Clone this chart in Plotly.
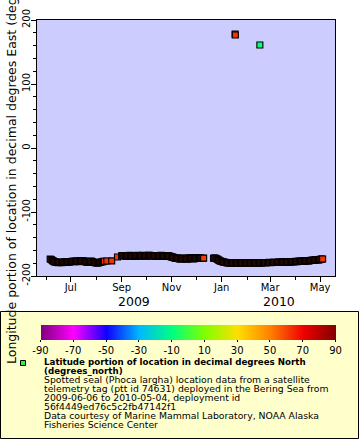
import plotly.graph_objects as go

# ---------------- data (one fix per day) ----------------
DATES = [
    # 2009-06
    "2009-06-06", "2009-06-07", "2009-06-08", "2009-06-09", "2009-06-10", "2009-06-11", "2009-06-12",
    "2009-06-13", "2009-06-14", "2009-06-15", "2009-06-16", "2009-06-17", "2009-06-18", "2009-06-19",
    "2009-06-20", "2009-06-21", "2009-06-22", "2009-06-23", "2009-06-24", "2009-06-25", "2009-06-26",
    "2009-06-27", "2009-06-28", "2009-06-29", "2009-06-30",
    # 2009-07
    "2009-07-01", "2009-07-02", "2009-07-03", "2009-07-04", "2009-07-05", "2009-07-06", "2009-07-07",
    "2009-07-08", "2009-07-09", "2009-07-10", "2009-07-11", "2009-07-12", "2009-07-13", "2009-07-14",
    "2009-07-15", "2009-07-16", "2009-07-17", "2009-07-18", "2009-07-19", "2009-07-20", "2009-07-21",
    "2009-07-22", "2009-07-23", "2009-07-24", "2009-07-25", "2009-07-26", "2009-07-27", "2009-07-28",
    "2009-07-29", "2009-07-30", "2009-07-31",
    # 2009-08
    "2009-08-01", "2009-08-02", "2009-08-03", "2009-08-04", "2009-08-05", "2009-08-06", "2009-08-07",
    "2009-08-08", "2009-08-09", "2009-08-10", "2009-08-11", "2009-08-14", "2009-08-20", "2009-08-27",
    # 2009-09
    "2009-09-01", "2009-09-02", "2009-09-03", "2009-09-04", "2009-09-05", "2009-09-06", "2009-09-07",
    "2009-09-08", "2009-09-09", "2009-09-10", "2009-09-11", "2009-09-12", "2009-09-13", "2009-09-14",
    "2009-09-15", "2009-09-16", "2009-09-17", "2009-09-18", "2009-09-19", "2009-09-20", "2009-09-21",
    "2009-09-22", "2009-09-23", "2009-09-24", "2009-09-25", "2009-09-26", "2009-09-27", "2009-09-28",
    "2009-09-29", "2009-09-30",
    # 2009-10
    "2009-10-01", "2009-10-02", "2009-10-03", "2009-10-04", "2009-10-05", "2009-10-06", "2009-10-07",
    "2009-10-08", "2009-10-09", "2009-10-10", "2009-10-11", "2009-10-12", "2009-10-13", "2009-10-14",
    "2009-10-15", "2009-10-16", "2009-10-17", "2009-10-18", "2009-10-19", "2009-10-20", "2009-10-21",
    "2009-10-22", "2009-10-23", "2009-10-24", "2009-10-25", "2009-10-26", "2009-10-27", "2009-10-28",
    "2009-10-29", "2009-10-30", "2009-10-31",
    # 2009-11
    "2009-11-01", "2009-11-02", "2009-11-03", "2009-11-04", "2009-11-05", "2009-11-06", "2009-11-07",
    "2009-11-08", "2009-11-09", "2009-11-10", "2009-11-11", "2009-11-12", "2009-11-13", "2009-11-14",
    "2009-11-15", "2009-11-16", "2009-11-17", "2009-11-18", "2009-11-19", "2009-11-20", "2009-11-21",
    "2009-11-22", "2009-11-23", "2009-11-24", "2009-11-25", "2009-11-26", "2009-11-27", "2009-11-28",
    "2009-11-29", "2009-11-30",
    # 2009-12
    "2009-12-01", "2009-12-02", "2009-12-03", "2009-12-04", "2009-12-05", "2009-12-06", "2009-12-07",
    "2009-12-08", "2009-12-09", "2009-12-10",
    "2009-12-22", "2009-12-23", "2009-12-24", "2009-12-25", "2009-12-26", "2009-12-27", "2009-12-28",
    "2009-12-29", "2009-12-30", "2009-12-31",
    # 2010-01
    "2010-01-01", "2010-01-02", "2010-01-03", "2010-01-04", "2010-01-05", "2010-01-06", "2010-01-07",
    "2010-01-08", "2010-01-09", "2010-01-10", "2010-01-11", "2010-01-12", "2010-01-13", "2010-01-14",
    "2010-01-15", "2010-01-16", "2010-01-17", "2010-01-17 08:00", "2010-01-17 14:00",
    "2010-01-18", "2010-01-19", "2010-01-20", "2010-01-21", "2010-01-22", "2010-01-23", "2010-01-24",
    "2010-01-25", "2010-01-26", "2010-01-27", "2010-01-28", "2010-01-29", "2010-01-30", "2010-01-31",
    # 2010-02
    "2010-02-01", "2010-02-02", "2010-02-03", "2010-02-04", "2010-02-05", "2010-02-06", "2010-02-07",
    "2010-02-08", "2010-02-09", "2010-02-10", "2010-02-11", "2010-02-12", "2010-02-13", "2010-02-14",
    "2010-02-15", "2010-02-16", "2010-02-16 12:00",
    "2010-02-17", "2010-02-18", "2010-02-19", "2010-02-20", "2010-02-21", "2010-02-22", "2010-02-23",
    "2010-02-24", "2010-02-25", "2010-02-26", "2010-02-27", "2010-02-28",
    # 2010-03
    "2010-03-01", "2010-03-02", "2010-03-03", "2010-03-04", "2010-03-05", "2010-03-06", "2010-03-07",
    "2010-03-08", "2010-03-09", "2010-03-10", "2010-03-11", "2010-03-12", "2010-03-13", "2010-03-14",
    "2010-03-15", "2010-03-16", "2010-03-17", "2010-03-18", "2010-03-19", "2010-03-20", "2010-03-21",
    "2010-03-22", "2010-03-23", "2010-03-24", "2010-03-25", "2010-03-26", "2010-03-27", "2010-03-28",
    "2010-03-29", "2010-03-30", "2010-03-31",
    # 2010-04
    "2010-04-01", "2010-04-02", "2010-04-03", "2010-04-04", "2010-04-05", "2010-04-06", "2010-04-07",
    "2010-04-08", "2010-04-09", "2010-04-10", "2010-04-11", "2010-04-12", "2010-04-13", "2010-04-14",
    "2010-04-15", "2010-04-16", "2010-04-17", "2010-04-18", "2010-04-19", "2010-04-20", "2010-04-21",
    "2010-04-22", "2010-04-23", "2010-04-24", "2010-04-25", "2010-04-26", "2010-04-27", "2010-04-28",
    "2010-04-29", "2010-04-30",
    # 2010-05
    "2010-05-01", "2010-05-02", "2010-05-03", "2010-05-04",
]

LON = [
    # 2009-06
    -173.4, -174.3, -175.0, -176.1, -176.8, -177.6, -177.9,
    -178.3, -178.6, -178.9, -179.1, -178.7, -178.4, -178.9,
    -179.3, -179.0, -178.7, -178.2, -177.9, -178.3, -178.5,
    -178.0, -177.6, -177.9, -178.2,
    # 2009-07
    -177.8, -177.3, -177.0, -176.9, -177.2, -177.5, -177.0,
    -176.6, -177.1, -177.8, -177.2, -176.4, -176.7, -177.0,
    -176.5, -176.2, -176.6, -177.1, -177.6, -178.0, -178.3,
    -178.6, -178.0, -177.4, -177.0, -176.7, -177.3, -177.9,
    -178.4, -178.8, -179.1,
    # 2009-08
    -179.4, -179.6, -179.7, -179.3, -178.9, -178.5, -178.2,
    -177.8, -177.5, -177.2, -176.9, -176.6, -176.4, -170.3,
    # 2009-09
    -168.4, -168.1, -167.9, -168.3, -168.6, -169.0, -169.2,
    -168.7, -168.3, -168.0, -167.8, -168.2, -168.7, -169.1,
    -169.0, -168.6, -168.1, -168.3, -168.5, -168.0, -167.7,
    -168.4, -168.9, -168.6, -168.2, -167.9, -167.6, -168.0,
    -168.4, -168.8,
    # 2009-10
    -169.1, -168.5, -168.0, -167.7, -167.5, -167.9, -168.3,
    -168.6, -168.8, -168.3, -167.9, -168.2, -168.6, -169.0,
    -169.3, -168.7, -168.2, -167.9, -167.8, -168.1, -168.5,
    -169.0, -169.4, -169.1, -168.7, -168.3, -168.0, -168.5,
    -169.0, -169.4, -169.8,
    # 2009-11
    -170.1, -170.5, -170.9, -171.3, -171.9, -172.4, -172.0,
    -171.8, -172.4, -172.9, -173.2, -173.5, -173.0, -172.6,
    -172.2, -171.9, -172.3, -172.8, -173.2, -173.6, -172.9,
    -172.3, -171.9, -171.7, -172.1, -172.5, -172.9, -173.2,
    -172.6, -172.1,
    # 2009-12
    -171.8, -171.6, -172.0, -172.4, -172.1, -171.9, -172.3,
    -172.6, -172.2, -172.0,
    -172.3, -172.0, -172.0, -172.6, -173.2, -174.0, -174.9,
    -175.6, -176.3, -176.9,
    # 2010-01
    -177.3, -177.7, -178.0, -178.4, -178.7, -179.0, -179.2,
    -179.4, -179.6, -179.3, -179.1, -179.5, -179.8, -179.6,
    -179.4, -179.5, -179.7, 177.9, 176.6,
    -179.4, -179.2, -179.6, -179.9, -179.7, -179.5, -179.2,
    -179.0, -179.3, -179.6, -179.5, -179.3, -179.6, -179.8,
    # 2010-02
    -179.6, -179.4, -179.2, -179.1, -179.4, -179.7, -179.5,
    -179.3, -179.1, -178.9, -179.2, -179.5, -179.7, -179.8,
    -179.5, -179.2, 160.9,
    -179.4, -179.6, -179.3, -179.1, -178.9, -178.8, -179.1,
    -179.4, -179.2, -179.0, -178.8, -178.7,
    # 2010-03
    -179.0, -179.2, -179.0, -178.8, -178.6, -178.5, -178.8,
    -179.0, -178.8, -178.6, -178.4, -178.3, -178.5, -178.7,
    -178.4, -178.2, -178.3, -178.5, -178.2, -177.9, -178.1,
    -178.3, -178.0, -177.7, -177.9, -178.0, -177.7, -177.4,
    -177.6, -177.8, -177.5,
    # 2010-04
    -177.2, -177.4, -177.5, -177.2, -176.9, -177.0, -177.2,
    -176.9, -176.6, -176.7, -176.9, -176.6, -176.3, -176.1,
    -176.0, -176.2, -176.4, -176.0, -175.7, -175.5, -175.3,
    -175.4, -175.6, -175.2, -174.8, -174.6, -174.5, -174.7,
    -174.9, -174.5,
    # 2010-05
    -174.1, -173.9, -173.7, -173.4,
]

LAT = [
    # 2009-06
    62.1, 62.2, 62.3, 62.5, 62.6, 62.8, 62.9,
    63.0, 63.1, 63.1, 63.0, 63.2, 63.3, 63.4,
    63.5, 63.3, 63.2, 63.3, 63.4, 63.5, 63.6,
    63.4, 63.3, 63.2, 63.1,
    # 2009-07
    63.0, 63.0, 62.9, 62.8, 62.9, 63.1, 62.9,
    62.7, 62.8, 62.9, 62.7, 62.6, 62.7, 62.8,
    62.6, 62.5, 62.6, 62.7, 62.8, 62.9, 63.0,
    63.0, 62.9, 62.8, 62.7, 62.6, 62.7, 62.9,
    63.0, 63.1, 63.2,
    # 2009-08
    63.2, 63.3, 63.4, 63.2, 63.1, 63.0, 62.9,
    62.8, 62.7, 62.6, 62.5, 62.4, 62.2, 61.6,
    # 2009-09
    61.9, 62.0, 62.0, 62.1, 62.2, 62.2, 62.1,
    62.2, 62.3, 62.3, 62.4, 62.3, 62.2, 62.4,
    62.5, 62.6, 62.6, 62.5, 62.4, 62.3, 62.3,
    62.4, 62.5, 62.6, 62.7, 62.7, 62.6, 62.5,
    62.4, 62.3,
    # 2009-10
    62.2, 62.3, 62.3, 62.2, 62.1, 62.0, 62.0,
    62.1, 62.2, 62.0, 61.9, 62.0, 62.1, 61.9,
    61.8, 61.9, 62.0, 61.8, 61.7, 61.8, 61.9,
    61.7, 61.6, 61.7, 61.8, 61.6, 61.5, 61.6,
    61.7, 61.5, 61.4,
    # 2009-11
    61.3, 61.3, 61.2, 61.1, 61.0, 60.9, 61.0,
    61.0, 60.9, 60.8, 60.7, 60.6, 60.7, 60.7,
    60.8, 60.9, 60.7, 60.6, 60.5, 60.4, 60.5,
    60.5, 60.6, 60.7, 60.6, 60.5, 60.4, 60.3,
    60.4, 60.4,
    # 2009-12
    60.5, 60.5, 60.4, 60.3, 60.4, 60.4, 60.3,
    60.2, 60.3, 60.3,
    60.1, 60.1, 60.0, 60.0, 59.9, 60.0, 60.1,
    59.9, 59.8, 59.8,
    # 2010-01
    59.7, 59.7, 59.6, 59.7, 59.8, 59.6, 59.5,
    59.5, 59.6, 59.5, 59.4, 59.5, 59.5, 59.4,
    59.3, 59.4, 59.4, 62.0, 61.8,
    59.5, 59.6, 59.5, 59.5, 59.4, 59.3, 59.4,
    59.4, 59.5, 59.6, 59.5, 59.5, 59.6, 59.7,
    # 2010-02
    59.6, 59.6, 59.7, 59.8, 59.7, 59.5, 59.6,
    59.7, 59.8, 59.9, 59.8, 59.6, 59.7, 59.8,
    59.7, 59.7, -9.0,
    59.8, 59.9, 59.9, 60.0, 59.9, 59.8, 59.9,
    60.1, 60.0, 59.9, 60.0, 60.0,
    # 2010-03
    60.1, 60.1, 60.0, 60.1, 60.2, 60.2, 60.1,
    60.1, 60.2, 60.3, 60.3, 60.2, 60.3, 60.4,
    60.4, 60.3, 60.4, 60.5, 60.5, 60.4, 60.5,
    60.6, 60.6, 60.5, 60.6, 60.7, 60.7, 60.6,
    60.7, 60.8, 60.8,
    # 2010-04
    60.9, 60.9, 60.8, 60.9, 61.0, 61.0, 61.1,
    61.1, 61.0, 61.1, 61.2, 61.2, 61.3, 61.3,
    61.2, 61.3, 61.4, 61.4, 61.5, 61.5, 61.4,
    61.5, 61.6, 61.6, 61.7, 61.7, 61.8, 61.8,
    61.9, 61.9,
    # 2010-05
    62.0, 62.0, 62.1, 62.2,
]

assert len(DATES) == len(LON) == len(LAT), (len(DATES), len(LON), len(LAT))

Y_TICKS = [-200, -100, 0, 100, 200]
Y_TICK_TEXT = ["-200", "-100", "0", "100", "200"]
CB_TICKS = [-90, -70, -50, -30, -10, 10, 30, 50, 70, 90]
CB_TICK_TEXT = ["-90", "-70", "-50", "-30", "-10", "10", "30", "50", "70", "90"]
CB_COLORS = ["#800080", "#FF00FF", "#1000FF", "#00B8FF", "#00FF80",
             "#80FF00", "#FFDF00", "#FF8000", "#F00000", "#800000"]
YEAR_LABELS = ["2009", "2010"]

Y_TITLE = "Longitude portion of location in decimal degrees East (degrees_east)"
LEG_BOLD = ["Latitude portion of location in decimal degrees North", "(degrees_north)"]
LEG_LINES = [
    "Spotted seal (Phoca largha) location data from a satellite",
    "telemetry tag (ptt id 74631) deployed in the Bering Sea from",
    "2009-06-06 to 2010-05-04, deployment id",
    "56f4449ed76c5c2fb47142f1",
    "Data courtesy of Marine Mammal Laboratory, NOAA Alaska",
    "Fisheries Science Center",
]

# ---------------- geometry helpers (pixel -> paper) ----------------
W, H = 360, 440
ML, MR, MT, MB = 37, 25, 20, 164
PW, PH = W - ML - MR, H - MT - MB


def px(x):
    return (x - ML) / PW


def py(y):
    return (H - MB - y) / PH


FONT = "DejaVu Sans"
n = len(CB_COLORS)
colorscale = [[i / (n - 1), c] for i, c in enumerate(CB_COLORS)]

fig = go.Figure()
fig.add_trace(go.Scatter(
    x=DATES, y=LON, mode="markers",
    marker=dict(
        symbol="square", size=6, color=LAT, colorscale=colorscale,
        cmin=-90, cmax=90, line=dict(color="black", width=1.1),
        showscale=True,
        colorbar=dict(
            orientation="h", thickness=15, thicknessmode="pixels",
            len=295, lenmode="pixels", x=px(40.5), xanchor="left",
            y=py(324.5), yanchor="top", xpad=0, ypad=0, outlinewidth=0,
            tickmode="array", tickvals=CB_TICKS, ticktext=CB_TICK_TEXT,
            ticks="outside", ticklen=2, tickcolor="black",
            tickfont=dict(family=FONT, size=10, color="black"),
        ),
    ),
    showlegend=False, hoverinfo="skip",
))

fig.update_layout(
    width=W, height=H,
    margin=dict(l=ML, r=MR, t=MT, b=MB, pad=0, autoexpand=False),
    paper_bgcolor="white", plot_bgcolor="#CCCCFF",
    font=dict(family=FONT, size=10, color="black"),
    showlegend=False,
)

fig.update_xaxes(
    type="date", range=["2009-05-20 23:00", "2010-05-19 01:00"],
    tick0="2009-07-01", dtick="M2", tickformat="%b",
    ticks="outside", ticklen=5, tickcolor="black", tickwidth=1,
    ticklabelstandoff=-3,
    minor=dict(tick0="2009-06-01", dtick="M1", ticks="outside", ticklen=3, tickcolor="black"),
    showline=True, linecolor="black", linewidth=1, mirror=True,
    showgrid=False, zeroline=False,
    tickfont=dict(family=FONT, size=10, color="black"),
)
fig.update_yaxes(
    range=[-200, 200], tickmode="array", tickvals=Y_TICKS, ticktext=Y_TICK_TEXT,
    tickangle=-90, ticklabelstandoff=-3,
    ticks="outside", ticklen=5, tickcolor="black", tickwidth=1,
    minor=dict(tick0=0, dtick=20, ticks="outside", ticklen=3, tickcolor="black"),
    showline=True, linecolor="black", linewidth=1, mirror=True,
    showgrid=False, zeroline=False,
    tickfont=dict(family=FONT, size=10, color="black"),
)

shapes = [
    dict(type="rect", xref="paper", yref="paper", layer="below",
         x0=px(0.5), x1=px(358.5), y0=py(311.5), y1=py(438.5),
         fillcolor="#FFFFCC", line=dict(color="black", width=1)),
    dict(type="rect", xref="paper", yref="paper", layer="above",
         x0=px(20.5), x1=px(25.5), y0=py(360.5), y1=py(365.5),
         fillcolor="#33EE33", line=dict(color="black", width=1)),
]

ann = []
for lab, xc in zip(YEAR_LABELS, [134, 279]):
    ann.append(dict(text=lab, xref="paper", yref="paper", x=px(xc), y=py(301),
                    xanchor="center", yanchor="middle", showarrow=False,
                    font=dict(family=FONT, size=12.5, color="black")))
ann.append(dict(text=Y_TITLE, xref="paper", yref="paper", x=px(11), y=py(149),
                xanchor="center", yanchor="middle", textangle=-90, showarrow=False,
                font=dict(family=FONT, size=12.5, color="black")))
for t, yc in zip(LEG_BOLD, [361.8, 370.8]):
    ann.append(dict(text="<b>" + t + "</b>", xref="paper", yref="paper", x=px(42), y=py(yc),
                    xanchor="left", yanchor="middle", showarrow=False,
                    font=dict(family=FONT, size=8.7, color="black")))
for i, t in enumerate(LEG_LINES):
    ann.append(dict(text=t, xref="paper", yref="paper", x=px(42), y=py(379.8 + 8.95 * i),
                    xanchor="left", yanchor="middle", showarrow=False,
                    font=dict(family=FONT, size=9.3, color="black")))

fig.update_layout(shapes=shapes, annotations=ann)
fig.write_html(
    "out.html",
    config={"displayModeBar": False},
    post_script="document.documentElement.style.margin='0';document.body.style.margin='0';document.body.style.overflow='hidden';",
)
